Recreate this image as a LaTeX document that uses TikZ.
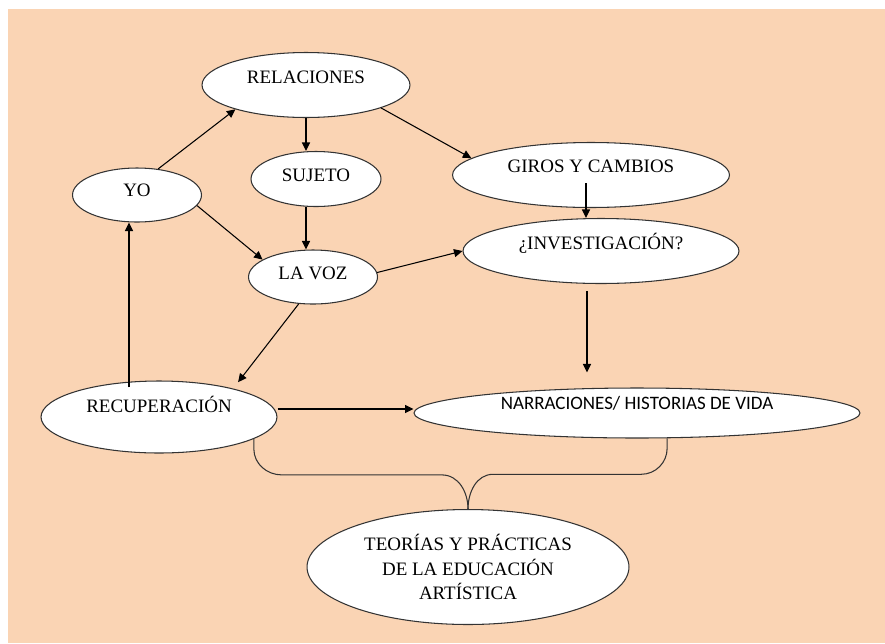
\documentclass[tikz,border=0pt]{standalone}
\usepackage{fontspec}
\setmainfont{Liberation Serif}
\newfontfamily\calibrifont{Carlito}
\usetikzlibrary{shapes.geometric,arrows.meta}

\definecolor{peach}{RGB}{250,212,180}

\tikzset{
    bubble/.style={draw=black!80, ellipse, fill=white, line width=0.6pt, inner sep=0pt,
        font=\fontsize{10.8}{13.9}\selectfont},
    capline/.style={text height=0.25cm, text depth=#1},
    conn/.style={-{Triangle[length=1.7mm,width=1.6mm]}, line width=0.6pt},
    brace/.style={draw=black!80, line width=0.6pt}
}

\begin{document}
\begin{tikzpicture}[x=0.02cm, y=-0.02cm]
    \useasboundingbox (0,0) rectangle (885,643);

    % Background
    \fill[peach] (8,9) rectangle (885,643);

    % Upper part
    \node[bubble, capline=0.32cm, minimum width=4.16cm, minimum height=1.3cm] (rel) at (306,85) {RELACIONES};
    \node[bubble, capline=0.2cm, minimum width=2.58cm, minimum height=1.08cm] (yo) at (137,195) {YO};
    \node[bubble, capline=0.16cm, minimum width=2.6cm, minimum height=1.1cm] (suj) at (316,179) {SUJETO};
    \node[bubble, capline=0.16cm, minimum width=2.58cm, minimum height=1.08cm] (lv) at (313,277) {LA VOZ};
    \node[bubble, capline=0.36cm, minimum width=5.54cm, minimum height=1.3cm] (gir) at (591,175) {GIROS Y CAMBIOS};
    \node[bubble, capline=0.32cm, minimum width=5.52cm, minimum height=1.3cm] (inv) at (601,251) {¿INVESTIGACIÓN?};

    % Lower part
    \node[bubble, capline=0.44cm, minimum width=4.72cm, minimum height=1.44cm] (rec) at (159,417) {RECUPERACIÓN};
    \node[bubble, capline=0.4cm, minimum width=8.92cm, minimum height=1cm,
        font=\calibrifont\fontsize{10.8}{13.9}\selectfont] (nar) at (637,413) {NARRACIONES/ HISTORIAS DE VIDA};
    \node[bubble, align=center, minimum width=6.44cm, minimum height=2.3cm] (teo) at (468,567)
        {TEORÍAS Y PRÁCTICAS\\DE LA EDUCACIÓN\\ARTÍSTICA};

    % Arrows
    \draw[conn] (yo.51) -- (rel.-161);
    \draw[conn] (rel.south) -- (rel.south |- suj.north);
    \draw[conn] (suj.south -| rel.south) -- (lv.north -| rel.south);
    \draw[conn] (rel.-17) -- (gir.172);
    \draw[conn] ([shift={(-5,8)}]gir.center) -- ([shift={(-15,0)}]inv.north);
    \draw[conn] (yo.-10) -- (lv.161);
    \draw[conn] (lv.4) -- (inv.west);
    \draw[conn, shorten >=0.16cm] (lv.-118) -- (rec.21);
    \draw[conn] ([shift={(-30,7)}]rec.north) -- ([shift={(-8,0)}]yo.south);
    \draw[conn] ([shift={(-14,7)}]inv.south) -- ([shift={(-50,-15)}]nar.north);
    \draw[conn] ([shift={(0,-8)}]rec.east) -- ([shift={(0,-4)}]nar.west);

    % Brace down to the last bubble
    \draw[brace] (rec.-13) -- ++(0,10) to[out=-90,in=180] ++(28,26) -- ++(160,0) to[out=0,in=90] (teo.north);
    \draw[brace] (nar.-40) -- ++(0,10) to[out=-90,in=0] ++(-26,26) -- ++(-148,0) to[out=180,in=90] (teo.north);
\end{tikzpicture}
\end{document}
